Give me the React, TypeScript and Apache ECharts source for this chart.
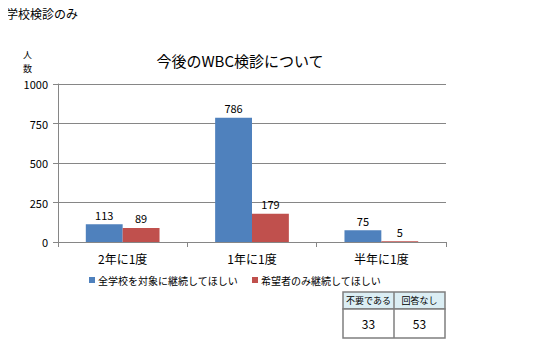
import React, { useEffect, useRef } from "react";
import * as echarts from "echarts";

const categories = ["2年に1度", "1年に1度", "半年に1度"];
const seriesNames = ["全学校を対象に継続してほしい", "希望者のみ継続してほしい"];
const allSchools = [113, 786, 75];
const applicantsOnly = [89, 179, 5];
const tableHeaders = ["不要である", "回答なし"];
const tableValues = ["33", "53"];
const yTicks = { min: 0, max: 1000, interval: 250 };

const FONT = "'Noto Sans CJK JP', 'Noto Sans', sans-serif";

export default function App() {
  const ref = useRef<HTMLDivElement>(null);
  useEffect(() => {
    if (!ref.current) return;
    const chart = echarts.init(ref.current, undefined, { renderer: "svg" });
    const tx = 343, ty = 292, tw = 102, colW = 51, h1 = 17, h2 = 29;
    const tableGraphics: any[] = [
      { type: "rect", shape: { x: tx, y: ty, width: tw, height: h1 }, style: { fill: "#dbeef4", stroke: "#7f7f7f", lineWidth: 1.5 } },
      { type: "rect", shape: { x: tx, y: ty + h1, width: tw, height: h2 }, style: { fill: "#ffffff", stroke: "#7f7f7f", lineWidth: 1.5 } },
      { type: "line", shape: { x1: tx + colW, y1: ty, x2: tx + colW, y2: ty + h1 + h2 }, style: { stroke: "#7f7f7f", lineWidth: 1.5 } },
    ];
    tableHeaders.forEach((t, i) => {
      tableGraphics.push({ type: "text", x: tx + colW * i + colW / 2, y: ty + h1 / 2, style: { text: t, font: `9px ${FONT}`, fill: "#000", align: "center", verticalAlign: "middle" } });
    });
    tableValues.forEach((t, i) => {
      tableGraphics.push({ type: "text", x: tx + colW * i + colW / 2, y: ty + h1 + h2 / 2, style: { text: t, font: `12px ${FONT}`, fill: "#000", align: "center", verticalAlign: "middle" } });
    });
    chart.setOption({
      animation: false,
      textStyle: { fontFamily: FONT },
      title: {
        text: "今後のWBC検診について",
        left: 235,
        textAlign: "center",
        top: 48,
        textStyle: { fontSize: 15, fontWeight: "normal", color: "#000", fontFamily: FONT },
      },
      legend: {
        data: seriesNames,
        left: 84,
        top: 270,
        itemWidth: 6,
        itemHeight: 6,
        itemGap: 14,
        icon: "rect",
        textStyle: { fontSize: 10, color: "#000", fontFamily: FONT, padding: [0, 0, 0, -2] },
      },
      grid: { left: 58, right: 87, top: 84, bottom: 118, containLabel: false },
      xAxis: {
        type: "category",
        data: categories,
        axisLine: { lineStyle: { color: "#868686" } },
        axisTick: { show: true, length: 5, lineStyle: { color: "#868686" } },
        axisLabel: { fontSize: 12, color: "#000", margin: 10, fontFamily: FONT },
      },
      yAxis: {
        type: "value",
        min: yTicks.min,
        max: yTicks.max,
        interval: yTicks.interval,
        axisLine: { show: true, lineStyle: { color: "#868686" } },
        axisTick: { show: true, length: 5, lineStyle: { color: "#868686" } },
        splitLine: { lineStyle: { color: "#868686" } },
        axisLabel: { fontSize: 11, color: "#000", margin: 10, fontFamily: FONT, formatter: (v: number) => String(v) },
      },
      series: [
        {
          name: seriesNames[0],
          type: "bar",
          data: allSchools,
          itemStyle: { color: "#4f81bd" },
          barGap: "0%",
          barCategoryGap: "43%",
          label: { show: true, position: "top", fontSize: 11, color: "#000", distance: 4 },
        },
        {
          name: seriesNames[1],
          type: "bar",
          data: applicantsOnly,
          itemStyle: { color: "#c0504d" },
          label: { show: true, position: "top", fontSize: 11, color: "#000", distance: 4 },
        },
      ],
      graphic: [
        { type: "text", x: 6, y: 7, style: { text: "学校検診のみ", font: `12px ${FONT}`, fill: "#000" } },
        { type: "text", x: 23, y: 50, style: { text: "人", font: `9px ${FONT}`, fill: "#000", verticalAlign: "top" } },
        { type: "text", x: 23, y: 64, style: { text: "数", font: `9px ${FONT}`, fill: "#000", verticalAlign: "top" } },
        ...tableGraphics,
      ],
    });
    return () => chart.dispose();
  }, []);
  return <div ref={ref} style={{ width: 533, height: 360, margin: -8 }} />;
}
